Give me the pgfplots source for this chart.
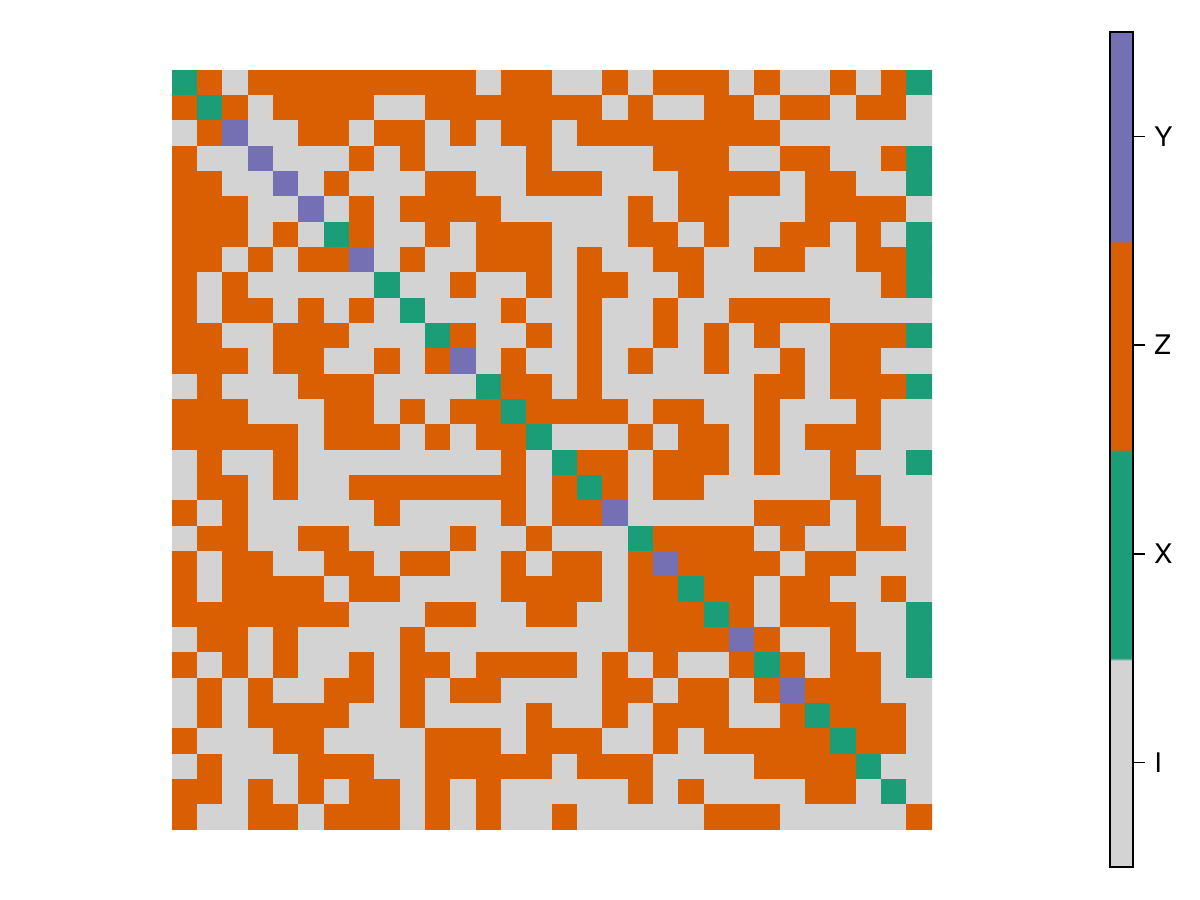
\documentclass[border=0pt]{standalone}
\usepackage{fontspec}
\setmainfont{TeX Gyre Heros}
\usepackage{pgfplots}
\pgfplotsset{compat=1.18}
\begin{document}
\begin{tikzpicture}[x=1pt,y=1pt]
\path[use as bounding box] (0,0) rectangle (600,450);
\begin{axis}[
  at={(276pt,225pt)}, anchor=center,
  scale only axis, width=380pt, height=380pt,
  hide axis,
  xmin=-0.5, xmax=29.5, ymin=-0.5, ymax=29.5,
  colormap={pauli}{rgb255(0pt)=(211,211,211) rgb255(99pt)=(211,211,211)
    rgb255(100pt)=(27,158,119) rgb255(199pt)=(27,158,119)
    rgb255(200pt)=(217,95,2) rgb255(299pt)=(217,95,2)
    rgb255(300pt)=(117,112,179) rgb255(400pt)=(117,112,179)},
  point meta min=-0.5, point meta max=3.5,
  colorbar,
  colorbar style={
    at={(parent axis.center)}, anchor=center,
    xshift=276.25pt, yshift=0.25pt,
    scale only axis, width=11.5pt, height=417.5pt,
    ytick={0,1,2,3}, yticklabels={I,X,Z,Y},
    ytick pos=right, yticklabel pos=right,
    tick align=outside, major tick length=6pt,
    tick style={black, line width=0.75pt},
    axis line style={line width=1.2pt},
    yticklabel style={font=\fontsize{13.5}{16}\selectfont, inner sep=1pt, xshift=3.5pt},
  },
]
\addplot[matrix plot*, mesh/cols=30, point meta=explicit]
table[row sep=\\, x expr={\coordindex-30*floor((\coordindex+0.5)/30)}, y expr={29-floor((\coordindex+0.5)/30)}, meta=c] {
c\\
1\\2\\0\\2\\2\\2\\2\\2\\2\\2\\2\\2\\0\\2\\2\\0\\0\\2\\0\\2\\2\\2\\0\\2\\0\\0\\2\\0\\2\\1\\
2\\1\\2\\0\\2\\2\\2\\2\\0\\0\\2\\2\\2\\2\\2\\2\\2\\0\\2\\0\\0\\2\\2\\0\\2\\2\\0\\2\\2\\0\\
0\\2\\3\\0\\0\\2\\2\\0\\2\\2\\0\\2\\0\\2\\2\\0\\2\\2\\2\\2\\2\\2\\2\\2\\0\\0\\0\\0\\0\\0\\
2\\0\\0\\3\\0\\0\\0\\2\\0\\2\\0\\0\\0\\0\\2\\0\\0\\0\\0\\2\\2\\2\\0\\0\\2\\2\\0\\0\\2\\1\\
2\\2\\0\\0\\3\\0\\2\\0\\0\\0\\2\\2\\0\\0\\2\\2\\2\\0\\0\\0\\2\\2\\2\\2\\0\\2\\2\\0\\0\\1\\
2\\2\\2\\0\\0\\3\\0\\2\\0\\2\\2\\2\\2\\0\\0\\0\\0\\0\\2\\0\\2\\2\\0\\0\\0\\2\\2\\2\\2\\0\\
2\\2\\2\\0\\2\\0\\1\\2\\0\\0\\2\\0\\2\\2\\2\\0\\0\\0\\2\\2\\0\\2\\0\\0\\2\\2\\0\\2\\0\\1\\
2\\2\\0\\2\\0\\2\\2\\3\\0\\2\\0\\0\\2\\2\\2\\0\\2\\0\\0\\2\\2\\0\\0\\2\\2\\0\\0\\2\\2\\1\\
2\\0\\2\\0\\0\\0\\0\\0\\1\\0\\0\\2\\0\\0\\2\\0\\2\\2\\0\\0\\2\\0\\0\\0\\0\\0\\0\\0\\2\\1\\
2\\0\\2\\2\\0\\2\\0\\2\\0\\1\\0\\0\\0\\2\\0\\0\\2\\0\\0\\2\\0\\0\\2\\2\\2\\2\\0\\0\\0\\0\\
2\\2\\0\\0\\2\\2\\2\\0\\0\\0\\1\\2\\0\\0\\2\\0\\2\\0\\0\\2\\0\\2\\0\\2\\0\\0\\2\\2\\2\\1\\
2\\2\\2\\0\\2\\2\\0\\0\\2\\0\\2\\3\\0\\2\\0\\0\\2\\0\\2\\0\\0\\2\\0\\0\\2\\0\\2\\2\\0\\0\\
0\\2\\0\\0\\0\\2\\2\\2\\0\\0\\0\\0\\1\\2\\2\\0\\2\\0\\0\\0\\0\\0\\0\\2\\2\\0\\2\\2\\2\\1\\
2\\2\\2\\0\\0\\0\\2\\2\\0\\2\\0\\2\\2\\1\\2\\2\\2\\2\\0\\2\\2\\0\\0\\2\\0\\0\\0\\2\\0\\0\\
2\\2\\2\\2\\2\\0\\2\\2\\2\\0\\2\\0\\2\\2\\1\\0\\0\\0\\2\\0\\2\\2\\0\\2\\0\\2\\2\\2\\0\\0\\
0\\2\\0\\0\\2\\0\\0\\0\\0\\0\\0\\0\\0\\2\\0\\1\\2\\2\\0\\2\\2\\2\\0\\2\\0\\0\\2\\0\\0\\1\\
0\\2\\2\\0\\2\\0\\0\\2\\2\\2\\2\\2\\2\\2\\0\\2\\1\\2\\0\\2\\2\\0\\0\\0\\0\\0\\2\\2\\0\\0\\
2\\0\\2\\0\\0\\0\\0\\0\\2\\0\\0\\0\\0\\2\\0\\2\\2\\3\\0\\0\\0\\0\\0\\2\\2\\2\\0\\2\\0\\0\\
0\\2\\2\\0\\0\\2\\2\\0\\0\\0\\0\\2\\0\\0\\2\\0\\0\\0\\1\\2\\2\\2\\2\\0\\2\\0\\0\\2\\2\\0\\
2\\0\\2\\2\\0\\0\\2\\2\\0\\2\\2\\0\\0\\2\\0\\2\\2\\0\\2\\3\\2\\2\\2\\2\\0\\2\\2\\0\\0\\0\\
2\\0\\2\\2\\2\\2\\0\\2\\2\\0\\0\\0\\0\\2\\2\\2\\2\\0\\2\\2\\1\\2\\2\\0\\2\\2\\0\\0\\2\\0\\
2\\2\\2\\2\\2\\2\\2\\0\\0\\0\\2\\2\\0\\0\\2\\2\\0\\0\\2\\2\\2\\1\\2\\0\\2\\2\\2\\0\\0\\1\\
0\\2\\2\\0\\2\\0\\0\\0\\0\\2\\0\\0\\0\\0\\0\\0\\0\\0\\2\\2\\2\\2\\3\\2\\0\\0\\2\\0\\0\\1\\
2\\0\\2\\0\\2\\0\\0\\2\\0\\2\\2\\0\\2\\2\\2\\2\\0\\2\\0\\2\\0\\0\\2\\1\\2\\0\\2\\2\\0\\1\\
0\\2\\0\\2\\0\\0\\2\\2\\0\\2\\0\\2\\2\\0\\0\\0\\0\\2\\2\\0\\2\\2\\0\\2\\3\\2\\2\\2\\0\\0\\
0\\2\\0\\2\\2\\2\\2\\0\\0\\2\\0\\0\\0\\0\\2\\0\\0\\2\\0\\2\\2\\2\\0\\0\\2\\1\\2\\2\\2\\0\\
2\\0\\0\\0\\2\\2\\0\\0\\0\\0\\2\\2\\2\\0\\2\\2\\2\\0\\0\\2\\0\\2\\2\\2\\2\\2\\1\\2\\2\\0\\
0\\2\\0\\0\\0\\2\\2\\2\\0\\0\\2\\2\\2\\2\\2\\0\\2\\2\\2\\0\\0\\0\\0\\2\\2\\2\\2\\1\\0\\0\\
2\\2\\0\\2\\0\\2\\0\\2\\2\\0\\2\\0\\2\\0\\0\\0\\0\\0\\2\\0\\2\\0\\0\\0\\0\\2\\2\\0\\1\\0\\
2\\0\\0\\2\\2\\0\\2\\2\\2\\0\\2\\0\\2\\0\\0\\2\\0\\0\\0\\0\\0\\2\\2\\2\\0\\0\\0\\0\\0\\2\\
};
\end{axis}
\end{tikzpicture}
\end{document}
